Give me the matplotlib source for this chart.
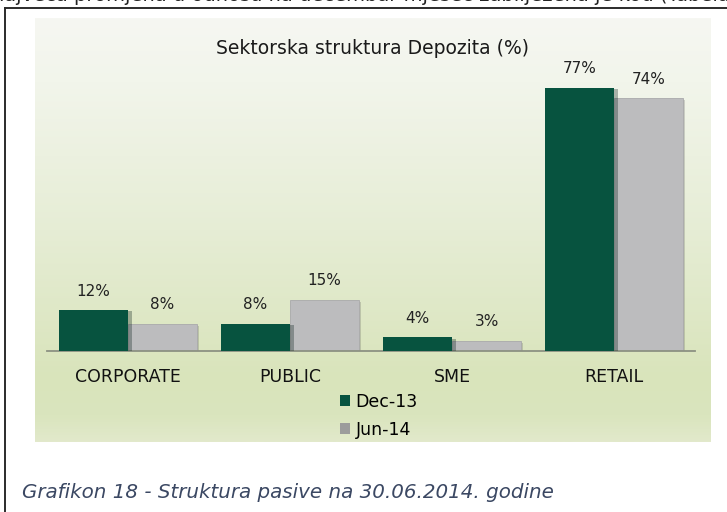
import matplotlib
matplotlib.use('Agg')
import matplotlib.pyplot as plt
import matplotlib.patheffects as pe
from matplotlib.colors import LinearSegmentedColormap
from matplotlib.patches import Patch
import numpy as np

categories = ['CORPORATE', 'PUBLIC', 'SME', 'RETAIL']
dec_13 = [12, 8, 4, 77]
jun_14 = [8, 15, 3, 74]
series_names = ['Dec-13', 'Jun-14']

W, H = 727, 512
fig = plt.figure(figsize=(W / 100, H / 100), dpi=100)
fig.patch.set_facecolor('white')

def px_box(x0, y0, x1, y1):
    # pixel box (top-left origin) -> figure fraction rect
    return [x0 / W, (H - y1) / H, (x1 - x0) / W, (y1 - y0) / H]

# document frame lines
fig.add_artist(plt.Line2D([5 / W, 5 / W], [0, (H - 8) / H], color='#2b2b2b', lw=1.4))
fig.add_artist(plt.Line2D([5 / W, 1], [(H - 8) / H, (H - 8) / H], color='#2b2b2b', lw=1.4))

# cut-off line of text from the page above (only its lower edge is on the page)
fig.text(-8 / W, (H - 1) / H, 'najveća promjena u odnosu na decembar mjesec zabilježena je kod (Tabela',
         fontsize=14, color='#222222', va='baseline', ha='left')

# green gradient panel
bg = fig.add_axes(px_box(35, 18, 711, 442))
grad = LinearSegmentedColormap.from_list('g', [(0.0, '#f6f7f2'), (0.15, '#f2f5eb'), (0.5, '#e6edd5'),
                                               (0.85, '#d9e4bb'), (0.94, '#dae5be'), (1.0, '#e2e9cb')])
bg.imshow(np.linspace(0, 1, 256).reshape(-1, 1), aspect='auto', cmap=grad, extent=[0, 1, 0, 1], origin='upper')
bg.set_axis_off()

ax = fig.add_axes(px_box(47, 60, 695, 351))
ax.set_facecolor('none')
x = np.arange(len(categories))
w = 0.426

grey = ax.bar(x + w / 2, jun_14, w, color='#bcbcbe', edgecolor='#a9a9ab', linewidth=0.6, zorder=2,
              path_effects=[pe.SimplePatchShadow(offset=(1.5, -1.5), alpha=0.2), pe.Normal()])
dark = ax.bar(x - w / 2, dec_13, w, color='#07533f', zorder=3,
              path_effects=[pe.SimplePatchShadow(offset=(3, -1), alpha=0.3), pe.Normal()])

for bars, vals in [(dark, dec_13), (grey, jun_14)]:
    for b, v in zip(bars, vals):
        ax.annotate(f'{v}%', (b.get_x() + b.get_width() / 2, v), xytext=(0, 13.5),
                    textcoords='offset points', ha='center', va='center', fontsize=11, color='#222222')

ax.set_xlim(-0.5, 3.5)
ax.set_ylim(0, 291 / 3.42)
ax.set_yticks([])
ax.set_xticks(x)
ax.set_xticklabels(categories, fontsize=12.5, color='#111111')
ax.tick_params(axis='x', length=0, pad=12.5)
for s in ['top', 'right', 'left']:
    ax.spines[s].set_visible(False)
ax.spines['bottom'].set_color('#8c9183')
ax.spines['bottom'].set_linewidth(1.3)

fig.text(373 / W, (H - 48) / H, 'Sektorska struktura Depozita (%)', ha='center', va='center',
         fontsize=13.5, color='#1a1a1a')

handles = [Patch(facecolor='#07533f'), Patch(facecolor='#9c9c9c')]
fig.legend(handles, series_names, loc='upper left', bbox_to_anchor=(340 / W, (H - 393) / H),
           frameon=False, fontsize=12.5, handlelength=0.6, handleheight=0.6, handletextpad=0.3,
           labelspacing=0.58, borderpad=0, borderaxespad=0)

fig.text(22 / W, (H - 492) / H, 'Grafikon 18 - Struktura pasive na 30.06.2014. godine',
         ha='left', va='center', fontsize=14.3, style='italic', color='#3b4863')

fig.savefig('out.png', dpi=100)
